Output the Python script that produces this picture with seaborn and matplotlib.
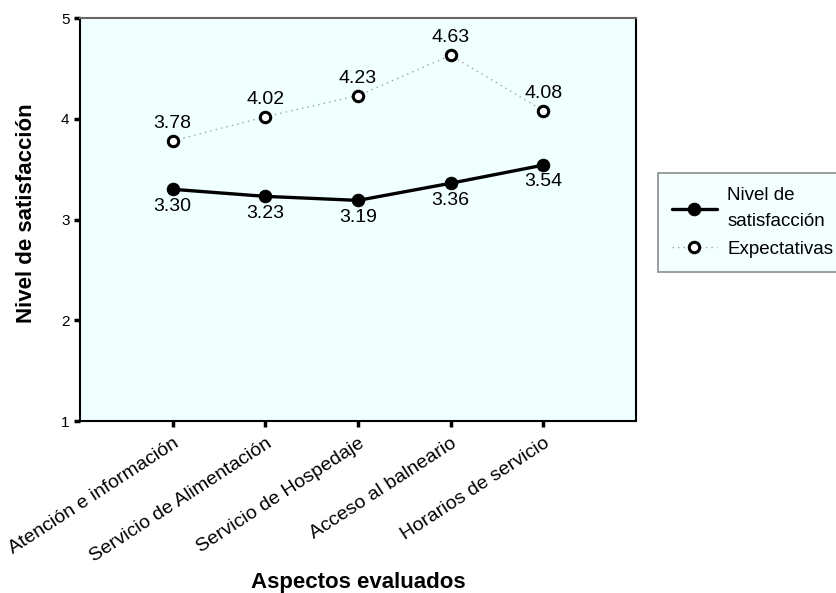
import numpy as np
import pandas as pd
import matplotlib.pyplot as plt
import seaborn as sns

aspectos = ["Atención e información", "Servicio de Alimentación", "Servicio de Hospedaje",
            "Acceso al balneario", "Horarios de servicio"]
nivel = [3.30, 3.23, 3.19, 3.36, 3.54]
expectativas = [3.78, 4.02, 4.23, 4.63, 4.08]
series = ["Nivel de\nsatisfacción", "Expectativas"]

pos = np.arange(1, len(aspectos) + 1)
df = pd.DataFrame({
    "pos": np.concatenate([pos, pos]),
    "valor": nivel + expectativas,
    "serie": [series[0]] * len(nivel) + [series[1]] * len(expectativas),
})

sns.set_style("ticks")
plt.rcParams['font.family'] = ['Liberation Sans', 'DejaVu Sans']
plt.rcParams['text.color'] = 'black'
plt.rcParams['axes.labelcolor'] = 'black'
plt.rcParams['xtick.color'] = 'black'
plt.rcParams['ytick.color'] = 'black'

fig = plt.figure(figsize=(8.36, 5.93), dpi=100)
ax = fig.add_axes([0.0957, 0.290, 0.665, 0.6796])
ax.set_facecolor("#f0ffff")

sns.lineplot(data=df, x="pos", y="valor", hue="serie", style="serie",
             palette={series[0]: "black", series[1]: "#a0a0a0"},
             dashes={series[0]: "", series[1]: (1, 3)},
             markers={series[0]: "o", series[1]: "o"},
             legend=False, ax=ax)

lines = ax.get_lines()
lines[0].set_linewidth(2.4)
lines[0].set_markersize(9)
lines[0].set_markerfacecolor("black")
lines[0].set_markeredgecolor("black")
lines[1].set_linewidth(1)
lines[1].set_markersize(7.5)
lines[1].set_markerfacecolor("white")
lines[1].set_markeredgecolor("black")
lines[1].set_markeredgewidth(2.2)

for x, v in zip(pos, nivel):
    ax.annotate(f"{v:.2f}", (x, v), xytext=(0, -6), textcoords="offset points",
                ha="center", va="top", fontsize=14)
for x, v in zip(pos, expectativas):
    ax.annotate(f"{v:.2f}", (x, v), xytext=(0, 6.5), textcoords="offset points",
                ha="center", va="bottom", fontsize=14)

ax.set_xlim(0, 6)
ax.set_ylim(1, 5)
ax.set_yticks([1, 2, 3, 4, 5])
ax.set_xticks(pos)
ax.set_xticklabels(aspectos, rotation=33, ha="right", rotation_mode="anchor", fontsize=14)
ax.tick_params(axis="both", direction="out", length=4, width=2.5)
ax.tick_params(axis="x", pad=6)
ax.tick_params(axis="y", labelsize=11)

for s in ["left", "bottom", "right"]:
    ax.spines[s].set_color("black")
    ax.spines[s].set_linewidth(1.5)
ax.spines["top"].set_color("#666666")
ax.spines["top"].set_linewidth(1.5)

ax.set_xlabel("Aspectos evaluados", fontsize=16, fontweight="bold")
ax.set_ylabel("Nivel de satisfacción", fontsize=16, fontweight="bold")
ax.xaxis.set_label_coords(0.5, -0.375)
ax.yaxis.set_label_coords(-0.077, 0.515)

leg = fig.legend(handles=lines[:2], labels=series, loc="upper left",
                 bbox_to_anchor=(0.787, 0.708), frameon=True, fancybox=False,
                 fontsize=13.5, handlelength=2.4, handletextpad=0.55,
                 borderpad=0.75, borderaxespad=0, labelspacing=0.55)
for t in leg.get_texts():
    t.set_linespacing(1.7)
leg.get_frame().set_facecolor("#f0ffff")
leg.get_frame().set_edgecolor("#707070")
leg.get_frame().set_linewidth(1.2)

fig.savefig("out.png", dpi=100)
